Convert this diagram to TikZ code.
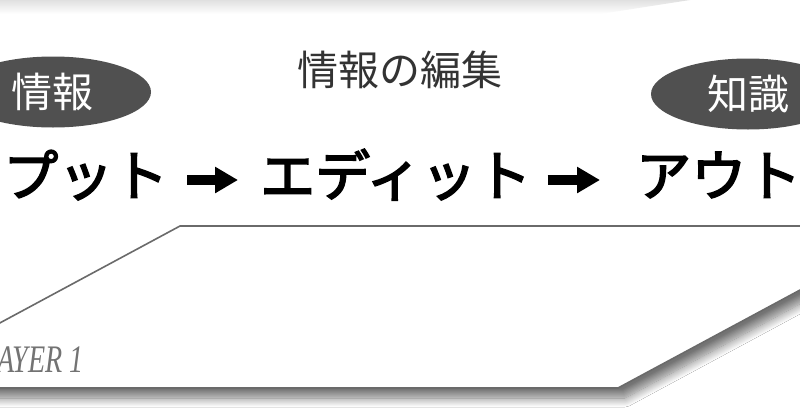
\documentclass[tikz,border=0pt]{standalone}
\usepackage{fontspec}
\setmainfont{Liberation Serif}
\newfontfamily\jpfont{Noto Sans CJK JP}
\newfontfamily\jpmed{Noto Sans CJK JP}[FakeBold=3]
\usetikzlibrary{shadows.blur,arrows.meta,calc,shapes.geometric}
\definecolor{ovalgray}{HTML}{505050}
\definecolor{edgegray}{HTML}{6A6A6A}
\definecolor{titlegray}{HTML}{333333}
\tikzset{
  oval/.style={ellipse, fill=ovalgray, text=white, inner sep=0pt,
    font=\jpfont\fontsize{41}{41}\selectfont, text height=36.1pt, text depth=4.9pt},
  kata/.style={anchor=west, inner sep=0pt, text=black,
    font=\jpmed\fontsize{55}{55}\selectfont, text height=48.4pt, text depth=6.6pt},
  bigarrow/.style={line width=10pt, black, -{Triangle[length=23pt,width=25pt]}},
  layerbox/.style={draw=edgegray, line width=1.6pt, fill=white, line join=miter,
    blur shadow={shadow xshift=7pt, shadow yshift=-10pt, shadow blur radius=9pt,
      shadow blur steps=14, shadow opacity=55}},
}
\begin{document}
\begin{tikzpicture}[x=1pt,y=-1pt]
\useasboundingbox (0,0) rectangle (800,418);
\clip (0,0) rectangle (800,418);
\fill[white] (0,0) rectangle (800,418);
% faint shadow of the layer above
\shade[top color=black!12, bottom color=white] (0,0) -- (690,0) -- (600,14) -- (0,14) -- cycle;
% layer plane
\path[layerbox] (180,226) -- (919,226) -- (618,388) -- (-121,388) -- cycle;
\node[font=\fontsize{39}{39}\selectfont\itshape, text=black!55, anchor=base east,
  inner sep=0pt, xscale=0.72] (layer) at (84,372) {LAYER 1};
% title
\node[font=\jpfont\fontsize{41}{41}\selectfont, text=titlegray, inner sep=0pt,
  text height=36.1pt, text depth=4.9pt] (title) at (400,70) {情報の編集};
% ovals
\node[oval, minimum width=196pt, minimum height=71pt] (info) at (53,92) {情報};
\node[oval, minimum width=194pt, minimum height=71pt] (know) at (748,94) {知識};
% main flow
\node[kata] (inp) at (3,175) {プット};
\node[kata] (edit) at (260,175) {エディット};
\node[kata] (outp) at (636,175) {アウト};
\draw[bigarrow] ($(inp.east)+(19,5)$) -- ($(edit.west)+(-22,5)$);
\draw[bigarrow] ($(edit.east)+(16,5)$) -- ($(outp.west)+(-36,5)$);
\end{tikzpicture}
\end{document}
